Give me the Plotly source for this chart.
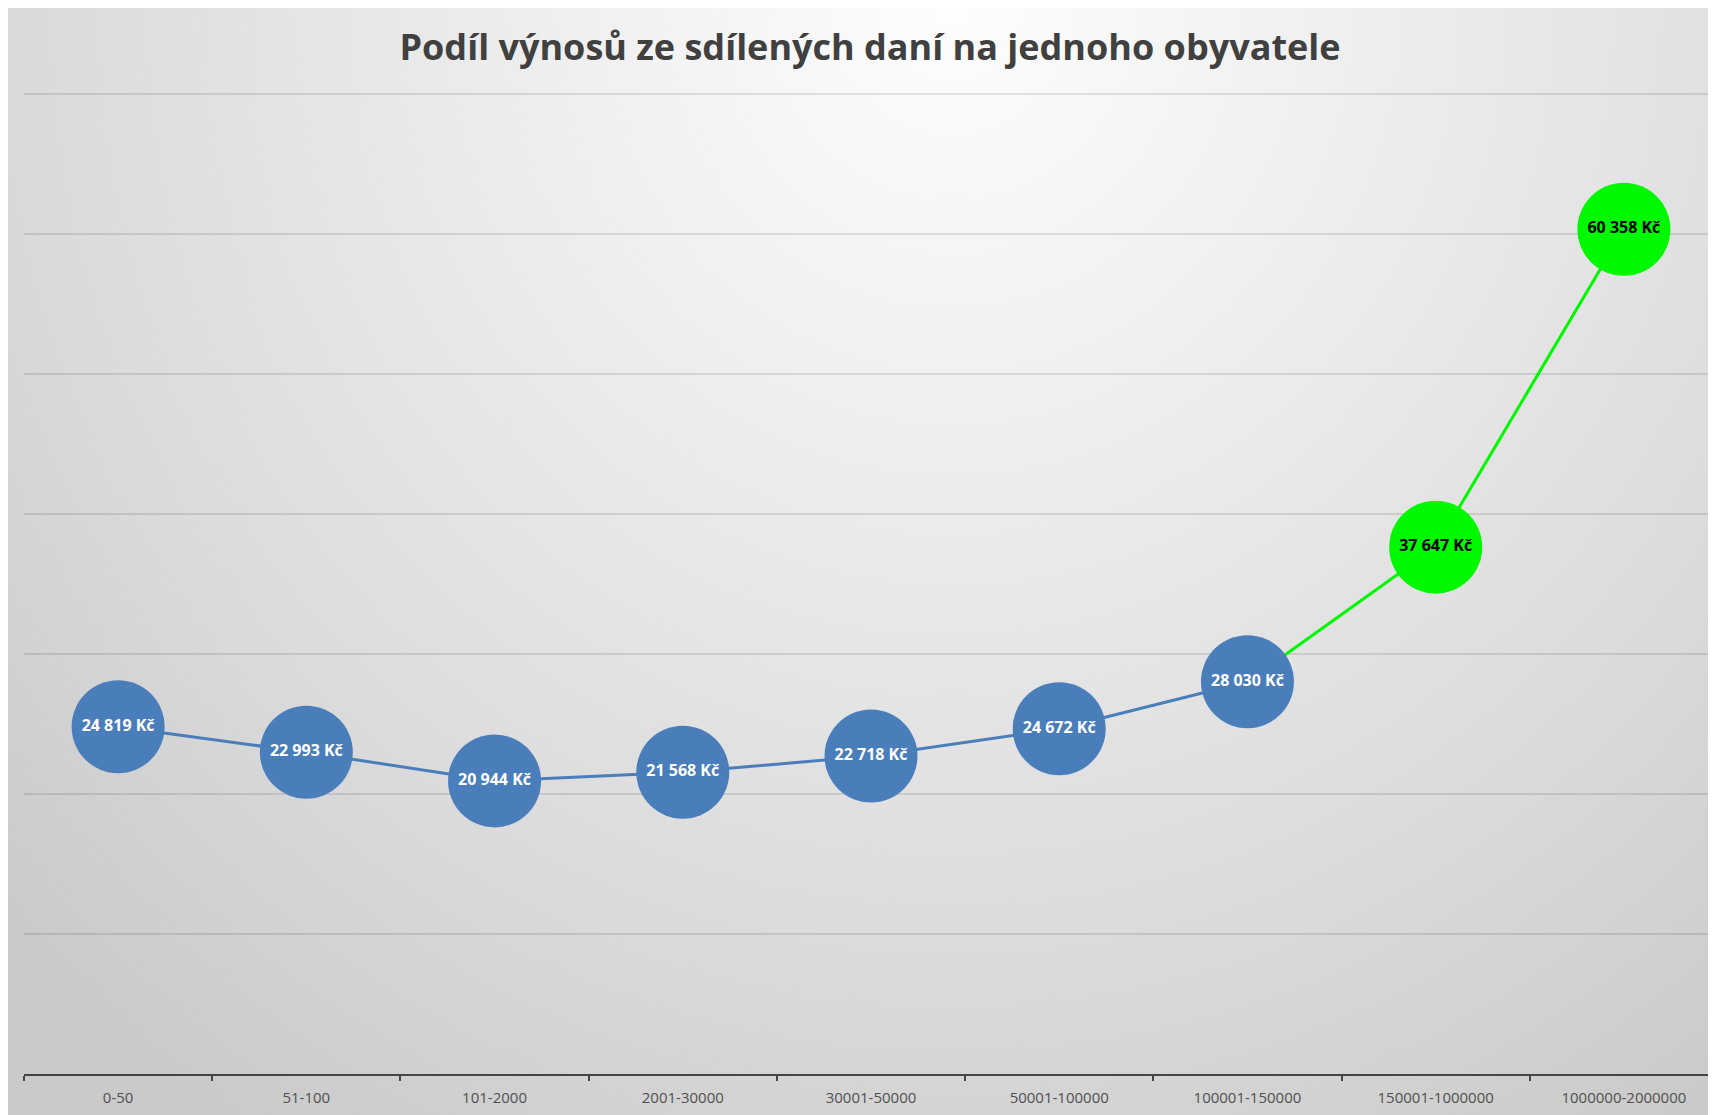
import base64
import plotly.graph_objects as go

categories = ["0-50", "51-100", "101-2000", "2001-30000", "30001-50000",
              "50001-100000", "100001-150000", "150001-1000000", "1000000-2000000"]
values = [24819, 22993, 20944, 21568, 22718, 24672, 28030, 37647, 60358]
labels = ["24 819 Kč", "22 993 Kč", "20 944 Kč", "21 568 Kč", "22 718 Kč",
          "24 672 Kč", "28 030 Kč", "37 647 Kč", "60 358 Kč"]
n_blue = 7  # first seven points are blue, the rest green

title_text = "Podíl výnosů ze sdílených daní na jednoho obyvatele"

W, H = 1716, 1115
ML, MR, MT, MB = 16, 6, 85, 49
PW, PH = W - ML - MR, H - MT - MB

BLUE = "#4a7ebb"
GREEN = "#00f800"
FONT = "Open Sans"

svg = f'''<svg xmlns="http://www.w3.org/2000/svg" width="{W}" height="{H}" viewBox="0 0 {W} {H}" preserveAspectRatio="none">
<defs><radialGradient id="g" cx="0.55" cy="0.0" r="0.75" gradientUnits="objectBoundingBox" gradientTransform="translate(0.55 0) scale(1 1.6) translate(-0.55 0)">
<stop offset="0" stop-color="#fdfdfd"/>
<stop offset="0.3" stop-color="#efefef"/>
<stop offset="0.7" stop-color="#dbdbdb"/>
<stop offset="1" stop-color="#cacaca"/>
</radialGradient></defs>
<rect x="0" y="0" width="{W}" height="{H}" fill="url(#g)"/>
</svg>'''
src = "data:image/svg+xml;base64," + base64.b64encode(svg.encode()).decode()

fig = go.Figure()

# green connecting line (from last blue point onwards)
fig.add_trace(go.Scatter(
    x=categories[n_blue - 1:], y=values[n_blue - 1:], mode="lines",
    line=dict(color=GREEN, width=3), hoverinfo="skip", showlegend=False))

# blue series
fig.add_trace(go.Scatter(
    x=categories[:n_blue], y=values[:n_blue], mode="lines+markers+text",
    line=dict(color=BLUE, width=3),
    marker=dict(color=BLUE, size=93, line=dict(width=0)),
    text=labels[:n_blue], textposition="middle center",
    textfont=dict(family=FONT, size=16, color="white", weight="bold"),
    showlegend=False))

# green markers
fig.add_trace(go.Scatter(
    x=categories[n_blue:], y=values[n_blue:], mode="markers+text",
    marker=dict(color=GREEN, size=93, line=dict(width=0)),
    text=labels[n_blue:], textposition="middle center",
    textfont=dict(family=FONT, size=16, color="black", weight="bold"),
    showlegend=False))

fig.update_layout(
    width=W, height=H,
    margin=dict(l=ML, r=MR, t=MT, b=MB),
    paper_bgcolor="#d0d0d0", plot_bgcolor="rgba(0,0,0,0)",
    title=dict(text=title_text, x=(862 - ML) / PW, xref="paper", xanchor="center",
               y=1 - 39 / H, yanchor="middle",
               font=dict(family=FONT, size=36, color="#404040", weight="bold")),
    xaxis=dict(type="category", categoryorder="array", categoryarray=categories,
               range=[-0.5, len(categories) - 0.5],
               showline=True, linecolor="#454545", linewidth=2,
               ticks="outside", tickson="boundaries", ticklen=5, tickwidth=2,
               tickcolor="#454545", showgrid=False, zeroline=False,
               tickfont=dict(family=FONT, size=15, color="#505050"),
               ticklabelstandoff=9),
    yaxis=dict(range=[0, 70100], dtick=10000, showgrid=True,
               gridcolor="rgba(0,0,0,0.10)", gridwidth=1.5, showticklabels=False,
               zeroline=False, showline=False, ticks=""),
    images=[dict(source=src, xref="paper", yref="paper",
                 x=-ML / PW, y=1 + MT / PH,
                 sizex=W / PW, sizey=H / PH,
                 xanchor="left", yanchor="top", sizing="stretch", layer="below")],
)

fig.write_html("out.html")
